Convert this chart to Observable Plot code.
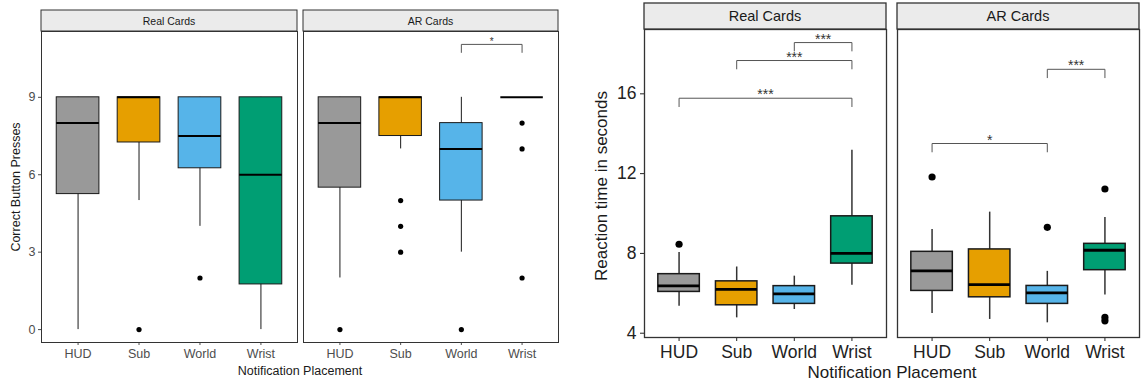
<!DOCTYPE html>
<html><head><meta charset="utf-8">
<script src="https://cdn.jsdelivr.net/npm/d3@7"></script>
<script src="https://cdn.jsdelivr.net/npm/@observablehq/plot@0.6"></script>
<style>
html,body{margin:0;padding:0;background:#fff;}
#root{position:relative;width:1141px;height:383px;overflow:hidden;font-family:"Liberation Sans",Arial,sans-serif;}
.t{position:absolute;white-space:nowrap;color:#1a1a1a;line-height:1;}
</style></head><body><div id="root"></div>
<script>
const placements = ["HUD", "Sub", "World", "Wrist"];
const boxColors = ["#999999", "#E69F00", "#56B4E9", "#009E73"];
const panelNames = ["Real Cards", "AR Cards"];

// ---- Correct Button Presses (left chart) ----
// per placement: lower whisker, Q1, median, Q3, upper whisker
const pressesRealLow  = [0, 5, 4, 0];
const pressesRealQ1   = [5.25, 7.25, 6.25, 1.75];
const pressesRealMed  = [8, 9, 7.5, 6];
const pressesRealQ3   = [9, 9, 9, 9];
const pressesRealHigh = [9, 9, 9, 9];
const pressesRealOutliers = [[], [0], [2], []];
const pressesRealSig = [];

const pressesARLow  = [2, 7, 3, 9];
const pressesARQ1   = [5.5, 7.5, 5, 9];
const pressesARMed  = [8, 9, 7, 9];
const pressesARQ3   = [9, 9, 8, 9];
const pressesARHigh = [9, 9, 9, 9];
const pressesAROutliers = [[0], [5, 4, 3], [0], [8, 7, 2]];
const pressesARSig = [["World", "Wrist", "*", 11.05]];

const pressesTicks = [0, 3, 6, 9];

// ---- Reaction time in seconds (right chart) ----
const rtRealLow  = [5.35, 4.77, 5.19, 6.4];
const rtRealQ1   = [6.07, 5.4, 5.47, 7.49];
const rtRealMed  = [6.37, 6.2, 5.97, 8.0];
const rtRealQ3   = [6.96, 6.6, 6.36, 9.86];
const rtRealHigh = [8.05, 7.32, 6.86, 13.17];
const rtRealOutliers = [[8.46], [], [], []];
const rtRealSig = [["HUD", "Wrist", "***", 15.78], ["Sub", "Wrist", "***", 17.67], ["World", "Wrist", "***", 18.57]];

const rtARLow  = [4.99, 4.69, 4.52, 5.92];
const rtARQ1   = [6.12, 5.8, 5.47, 7.16];
const rtARMed  = [7.12, 6.44, 6.02, 8.16];
const rtARQ3   = [8.08, 8.2, 6.37, 8.48];
const rtARHigh = [9.2, 10.07, 7.1, 9.8];
const rtAROutliers = [[11.83], [], [9.31], [11.23, 4.79, 4.62]];
const rtARSig = [["HUD", "World", "*", 13.51], ["World", "Wrist", "***", 17.23]];

const rtTicks = [4, 8, 12, 16];

const root = document.getElementById("root");
const FONT = '"Liberation Sans", Arial, sans-serif';

function drawPanel(c) {
  const rows = placements.map((p, i) => ({placement: p, pos: i + 1,
    low: c.low[i], q1: c.q1[i], med: c.med[i], q3: c.q3[i], high: c.high[i]}));
  const outs = c.outliers.flatMap((vals, i) => vals.map(v => ({placement: placements[i], pos: i + 1, value: v})));
  const brs = c.sig.map(([a, b, label, y], k) => ({a: placements.indexOf(a) + 1, b: placements.indexOf(b) + 1, label, y, id: k}));
  const brPts = brs.flatMap(d => [
    {id: d.id, x: d.a, y: d.y - c.tip}, {id: d.id, x: d.a, y: d.y},
    {id: d.id, x: d.b, y: d.y}, {id: d.id, x: d.b, y: d.y - c.tip}]);
  const svg = Plot.plot({
    width: c.width, height: 383,
    marginLeft: c.ml, marginRight: c.mr, marginTop: c.mt, marginBottom: c.mb,
    style: {fontFamily: FONT, fontSize: c.fontSize + "px", color: c.textColor, background: "transparent", overflow: "visible"},
    x: {domain: [0.4, 4.6], ticks: [1, 2, 3, 4], tickFormat: i => placements[i - 1], label: null,
        tickSize: c.tickSize, tickPadding: c.tickPadX},
    y: {domain: c.yDomain, ticks: c.yTicks, label: null, axis: c.showY ? "left" : null,
        tickSize: c.tickSize, tickPadding: c.tickPadY},
    color: {domain: placements, range: boxColors},
    marks: [
      Plot.ruleX(rows, {x: "pos", y1: "low", y2: "high", stroke: c.whiskerColor, strokeWidth: c.whiskerW}),
      Plot.rect(rows, {x1: d => d.pos - c.hw, x2: d => d.pos + c.hw, y1: "q1", y2: "q3", fill: "placement", stroke: "#1a1a1a", strokeWidth: c.boxW}),
      Plot.ruleY(rows, {x1: d => d.pos - c.hw, x2: d => d.pos + c.hw, y: "med", stroke: "#000", strokeWidth: c.medW}),
      Plot.dot(outs, {x: "pos", y: "value", r: c.r, fill: "#000", stroke: null}),
      Plot.line(brPts, {x: "x", y: "y", z: "id", stroke: "#555", strokeWidth: 1}),
      Plot.text(brs, {x: d => (d.a + d.b) / 2, y: "y", text: "label", lineAnchor: "bottom", dy: 1, fontSize: c.starSize, fill: "#333"}),
      Plot.frame({stroke: "#333", strokeWidth: c.frameW})
    ]
  });
  svg.style.position = "absolute";
  svg.style.left = c.left + "px";
  svg.style.top = "0px";
  const areaW = c.width - c.ml - c.mr;
  const g = d3.select(svg).append("g");
  g.append("rect").attr("x", c.ml).attr("y", c.stripTop).attr("width", areaW).attr("height", c.mt - c.stripTop)
    .attr("fill", "#ebebeb").attr("stroke", "#333").attr("stroke-width", c.frameW);
  g.append("text").attr("x", c.ml + areaW / 2).attr("y", (c.stripTop + c.mt) / 2)
    .attr("text-anchor", "middle").attr("dominant-baseline", "central")
    .attr("font-size", c.stripSize).attr("fill", "#1a1a1a").text(c.title);
  root.appendChild(svg);
}

const leftCommon = {mt: 31, mb: 41, yDomain: [-0.5, 11.55], yTicks: pressesTicks, hw: 0.35, fontSize: 12.5,
  textColor: "#4d4d4d", tickSize: 3, tickPadX: 4, tickPadY: 3, stripTop: 10, stripSize: 10.5,
  whiskerColor: "#1a1a1a", whiskerW: 1, boxW: 1, medW: 2, r: 2.6, tip: 0.31, starSize: 10, frameW: 1};
drawPanel({...leftCommon, title: panelNames[0], left: 0, width: 298, ml: 41, mr: 1, showY: true,
  low: pressesRealLow, q1: pressesRealQ1, med: pressesRealMed, q3: pressesRealQ3, high: pressesRealHigh,
  outliers: pressesRealOutliers, sig: pressesRealSig});
drawPanel({...leftCommon, title: panelNames[1], left: 302, width: 257, ml: 1, mr: 1, showY: false,
  low: pressesARLow, q1: pressesARQ1, med: pressesARMed, q3: pressesARQ3, high: pressesARHigh,
  outliers: pressesAROutliers, sig: pressesARSig});

const rightCommon = {mt: 29, mb: 46, yDomain: [3.785, 19.225], yTicks: rtTicks, hw: 0.36, fontSize: 17.5,
  textColor: "#222", tickSize: 4, tickPadX: 4, tickPadY: 4, stripTop: 3, stripSize: 14.5,
  whiskerColor: "#333", whiskerW: 1.5, boxW: 1.5, medW: 2.8, r: 3.6, tip: 0.42, starSize: 14, frameW: 1.3};
drawPanel({...rightCommon, title: panelNames[0], left: 604, width: 283, ml: 40, mr: 1, showY: true,
  low: rtRealLow, q1: rtRealQ1, med: rtRealMed, q3: rtRealQ3, high: rtRealHigh,
  outliers: rtRealOutliers, sig: rtRealSig});
drawPanel({...rightCommon, title: panelNames[1], left: 896, width: 244, ml: 1, mr: 1, showY: false,
  low: rtARLow, q1: rtARQ1, med: rtARMed, q3: rtARQ3, high: rtARHigh,
  outliers: rtAROutliers, sig: rtARSig});

function addText(txt, x, y, size, rotate) {
  const d = document.createElement("div");
  d.className = "t";
  d.textContent = txt;
  d.style.fontSize = size + "px";
  d.style.left = x + "px";
  d.style.top = y + "px";
  d.style.transform = "translate(-50%,-50%)" + (rotate ? " rotate(-90deg)" : "");
  root.appendChild(d);
}
addText("Correct Button Presses", 16, 187, 12.5, true);
addText("Notification Placement", 300, 371, 12.5, false);
addText("Reaction time in seconds", 601, 186, 17, true);
addText("Notification Placement", 892, 372, 17, false);
</script></body></html>
